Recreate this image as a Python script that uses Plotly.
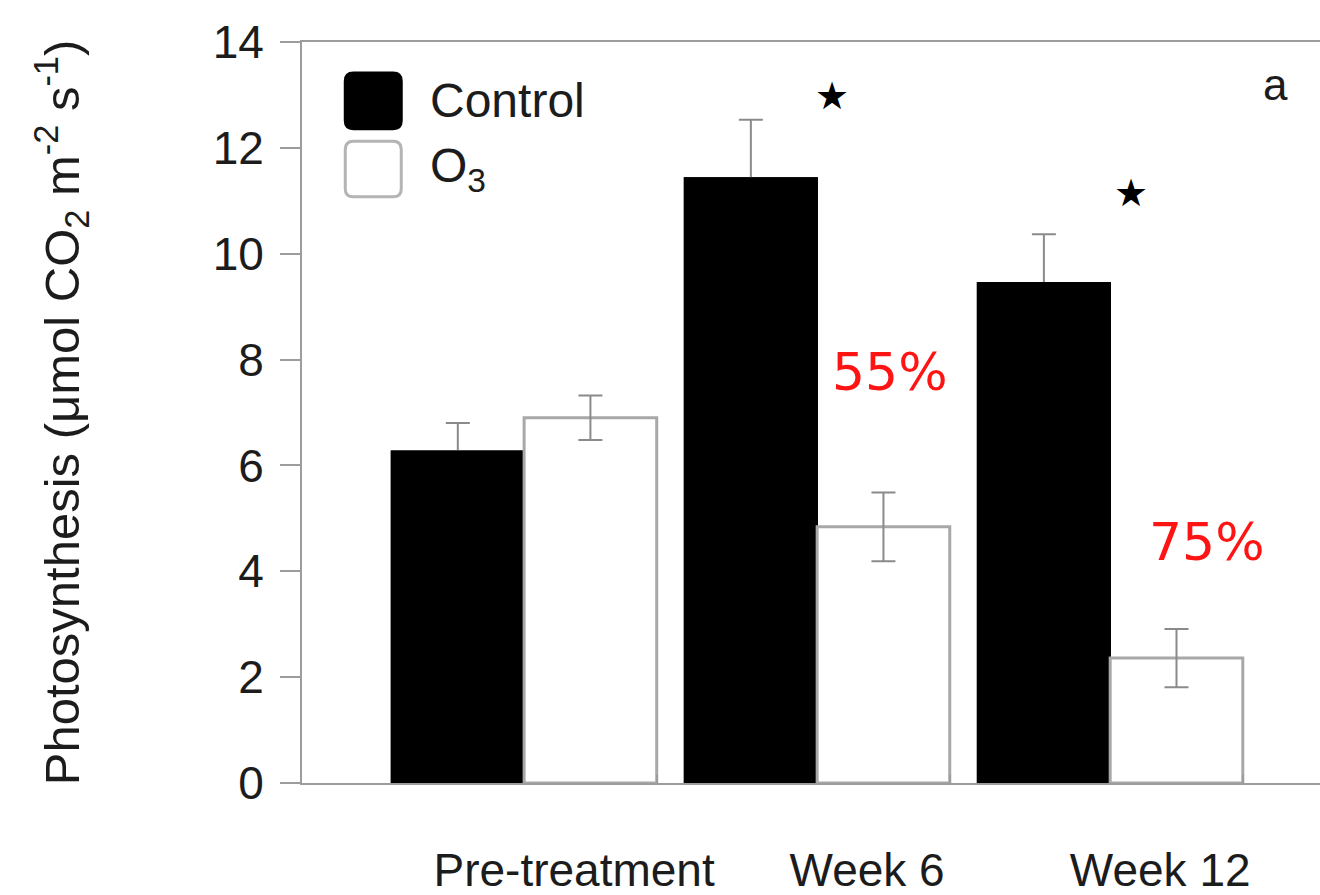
import plotly.graph_objects as go

# Leaf photosynthesis under control and elevated ozone
categories = ["Pre-treatment", "Week 6", "Week 12"]
control_mean = [6.27, 11.43, 9.45]
control_se = [0.53, 1.10, 0.92]
ozone_mean = [6.90, 4.84, 2.36]
ozone_se = [0.42, 0.65, 0.55]
y_ticks = [0, 2, 4, 6, 8, 10, 12, 14]

# significance markers and percent reductions
star_groups = ["Week 6", "Week 12"]
star_heights = [12.98, 11.15]
pct_labels = ["55%", "75%"]
pct_groups = ["Week 6", "Week 12"]
pct_heights = [7.76, 4.55]

x_pos = list(range(len(categories)))
BARGAP = 0.095

AXIS_GREY = "#9c9c9c"
TEXT = "#1c1c1c"
FONT = "Liberation Sans, Arial, sans-serif"

fig = go.Figure()
# control bars carrying the error bars; an identical bar on top hides the lower half
fig.add_trace(go.Bar(
    x=x_pos, y=control_mean, name="Control", offsetgroup="control",
    marker=dict(color="#000000", line=dict(color="#000000", width=1.5)),
    error_y=dict(type="data", array=control_se, color="#8a8a8a", thickness=2, width=12),
    showlegend=False,
))
fig.add_trace(go.Bar(
    x=x_pos, y=control_mean, name="Control", offsetgroup="control",
    marker=dict(color="#000000", line=dict(color="#000000", width=1.5)),
    showlegend=False, hoverinfo="skip",
))
fig.add_trace(go.Bar(
    x=x_pos, y=ozone_mean, name="O<sub>3</sub>", offsetgroup="ozone",
    marker=dict(color="#ffffff", line=dict(color="#a8a8a8", width=3)),
    error_y=dict(type="data", array=ozone_se, color="#8a8a8a", thickness=2, width=12),
    showlegend=False,
))

# group boundary tick marks at the right edge of each pair
edge_ticks = [i + (1 - BARGAP) / 2 for i in x_pos]

fig.update_layout(
    width=1320, height=895,
    margin=dict(l=302, r=0, t=42, b=112),
    paper_bgcolor="white", plot_bgcolor="white",
    barmode="group", bargap=BARGAP, bargroupgap=0,
    font=dict(family=FONT, color=TEXT),
    xaxis=dict(
        range=[-0.758, 2.716], tickmode="array", tickvals=x_pos, ticktext=categories,
        ticks="", showgrid=False, zeroline=False,
        showline=True, linecolor=AXIS_GREY, linewidth=2, mirror=True,
        tickfont=dict(size=46, family=FONT, color=TEXT),
        ticklabelshift=50, ticklabelstandoff=46,
        minor=dict(tickmode="array", tickvals=edge_ticks, ticks="inside",
                   ticklen=8, tickcolor=AXIS_GREY, tickwidth=2, showgrid=False),
    ),
    yaxis=dict(
        range=[0, 14], tickmode="array", tickvals=y_ticks,
        ticks="outside", ticklen=20, tickcolor=AXIS_GREY, tickwidth=2,
        showgrid=False, zeroline=False,
        showline=True, linecolor=AXIS_GREY, linewidth=2,
        tickfont=dict(size=46, family=FONT, color=TEXT),
        ticklabelstandoff=7,
    ),
)

# y-axis title
fig.add_annotation(
    xref="paper", yref="paper", x=-0.236, y=0.5, xanchor="center", yanchor="middle",
    text="Photosynthesis (μmol CO<sub>2</sub> m<sup>-2</sup> s<sup>-1</sup>)",
    textangle=-90, showarrow=False, font=dict(size=49, family=FONT, color=TEXT),
)

# panel letter
fig.add_annotation(
    xref="paper", yref="paper", x=0.956, y=0.942, xanchor="center", yanchor="middle",
    text="a", showarrow=False, font=dict(size=44, family=FONT, color=TEXT),
)


def rounded_rect(x0, x1, y0, y1, rx, ry):
    return (f"M {x0 + rx} {y0} L {x1 - rx} {y0} Q {x1} {y0} {x1} {y0 + ry} "
            f"L {x1} {y1 - ry} Q {x1} {y1} {x1 - rx} {y1} "
            f"L {x0 + rx} {y1} Q {x0} {y1} {x0} {y1 - ry} "
            f"L {x0} {y0 + ry} Q {x0} {y0} {x0 + rx} {y0} Z")


# legend drawn as rounded swatches + labels
legend_items = [("Control", "#000000", "#000000"), ("O<sub>3</sub>", "#ffffff", "#b4b4b4")]
for k, (label, fill, edge) in enumerate(legend_items):
    y_top = 0.958 - k * 0.092
    y_bot = y_top - 0.075
    fig.add_shape(
        type="path", xref="paper", yref="paper",
        path=rounded_rect(0.0425, 0.0975, y_bot, y_top, 0.008, 0.011),
        fillcolor=fill, line=dict(color=edge, width=3), layer="above",
    )
    fig.add_annotation(
        xref="paper", yref="paper", x=0.124, y=(y_top + y_bot) / 2,
        xanchor="left", yanchor="middle", text=label, showarrow=False,
        font=dict(size=48, family=FONT, color=TEXT),
    )

# significance stars
star_shift = {"Week 6": 15, "Week 12": 21}
for g, h in zip(star_groups, star_heights):
    fig.add_annotation(
        x=categories.index(g), y=h, xshift=star_shift[g], text="★", showarrow=False,
        font=dict(size=38, family="DejaVu Sans", color="#000000"),
    )

# percent reduction labels
pct_shift = {"Week 6": 73, "Week 12": 97}
for lab, g, h in zip(pct_labels, pct_groups, pct_heights):
    fig.add_annotation(
        x=categories.index(g), y=h, xshift=pct_shift[g], text=lab, showarrow=False,
        font=dict(size=52, family="DejaVu Sans", color="#ff1414"),
    )

fig.write_html("out.html")
